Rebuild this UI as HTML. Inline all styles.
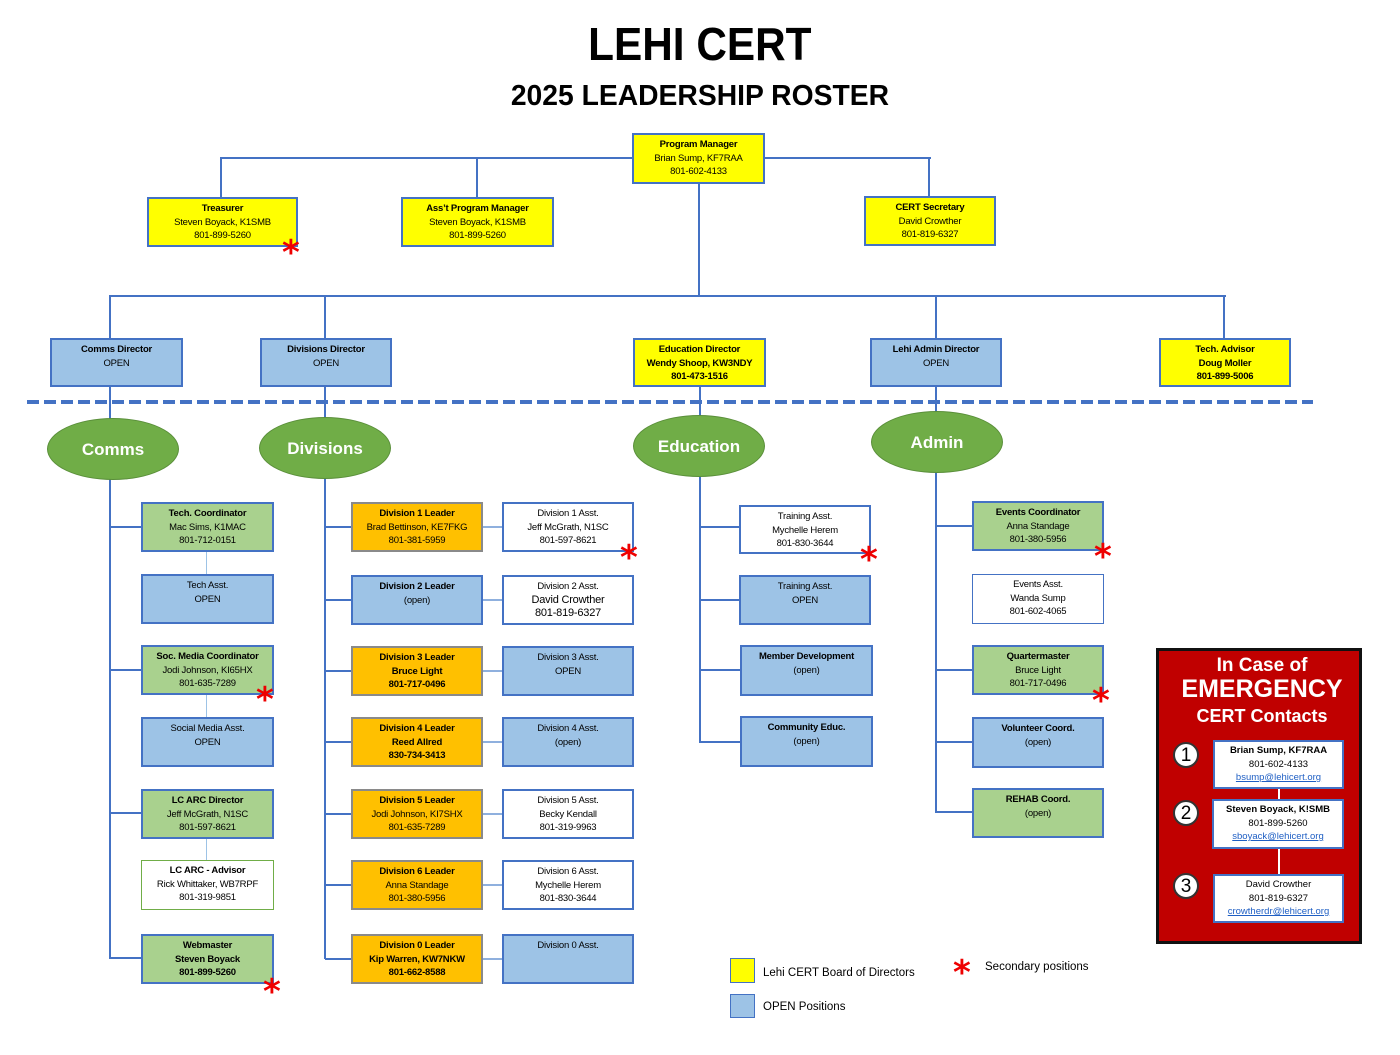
<!DOCTYPE html>
<html><head><meta charset="utf-8"><style>
body{margin:0;width:1400px;height:1055px;background:#fff;position:relative;overflow:hidden;font-family:"Liberation Sans",sans-serif}
div{position:absolute;box-sizing:border-box}
.b{border:2px solid #4472c4;text-align:center;font-size:9.5px;line-height:13.5px;padding-top:3px;color:#000;letter-spacing:-0.2px}
.y{background:#ffff00}.u{background:#9dc3e6}.g{background:#a9d18e}.o{background:#ffc000;border-color:#8a8a8a}.w{background:#fff}
.h{height:2px;background:#4472c4}.v{width:2px;background:#4472c4}
.e{background:#70ad47;border-radius:50%;color:#fff;font-weight:bold;font-size:17px;text-align:center;border:1px solid #5a8f3a}
.s{color:#e00;font-size:34px;font-weight:bold;line-height:30px;font-family:"DejaVu Sans",sans-serif}
.lt{font-size:11.5px;color:#000}
.c{background:#fff;border:2px solid #4472c4;text-align:center;font-size:9.5px;line-height:13.5px;padding-top:2px}
.c a{color:#1f5fc4;text-decoration:underline}
.n{width:26px;height:26px;border-radius:50%;background:#fff;border:2px solid #333;font-size:19px;text-align:center;line-height:23px}
</style></head><body>
<div style="left:0;width:1400px;top:17px;text-align:center;font-size:46px;font-weight:bold;transform:scaleX(0.92);transform-origin:698px 0">LEHI CERT</div>
<div style="left:0;width:1400px;top:80px;text-align:center;font-size:29px;font-weight:bold;transform:scaleX(0.975);transform-origin:697px 0">2025 LEADERSHIP ROSTER</div>

<!-- top connectors -->
<div class="h" style="left:221px;top:157px;width:710px"></div>
<div class="v" style="left:220px;top:157px;height:41px"></div>
<div class="v" style="left:476px;top:157px;height:41px"></div>
<div class="v" style="left:928px;top:157px;height:40px"></div>
<div class="v" style="left:698px;top:183px;height:114px"></div>
<div class="h" style="left:109px;top:295px;width:1117px"></div>
<div class="v" style="left:109px;top:295px;height:44px"></div>
<div class="v" style="left:324px;top:295px;height:44px"></div>
<div class="v" style="left:935px;top:295px;height:44px"></div>
<div class="v" style="left:1223px;top:295px;height:44px"></div>

<div class="b y" style="left:632px;top:133px;width:133px;height:51px"><b>Program Manager</b><br>Brian Sump, KF7RAA<br>801-602-4133</div>
<div class="b y" style="left:147px;top:197px;width:151px;height:50px"><b>Treasurer</b><br>Steven Boyack, K1SMB<br>801-899-5260</div>
<div class="b y" style="left:401px;top:197px;width:153px;height:50px"><b>Ass’t Program Manager</b><br>Steven Boyack, K1SMB<br>801-899-5260</div>
<div class="b y" style="left:864px;top:196px;width:132px;height:50px"><b>CERT Secretary</b><br>David Crowther<br>801-819-6327</div>
<div class="s" style="left:282px;top:238px">*</div>

<div class="b u" style="left:50px;top:338px;width:133px;height:49px"><b>Comms Director</b><br>OPEN</div>
<div class="b u" style="left:260px;top:338px;width:132px;height:49px"><b>Divisions Director</b><br>OPEN</div>
<div class="b y" style="left:633px;top:338px;width:133px;height:49px"><b>Education Director<br>Wendy Shoop, KW3NDY<br>801-473-1516</b></div>
<div class="b u" style="left:870px;top:338px;width:132px;height:49px"><b>Lehi Admin Director</b><br>OPEN</div>
<div class="b y" style="left:1159px;top:338px;width:132px;height:49px"><b>Tech. Advisor<br>Doug Moller<br>801-899-5006</b></div>

<div style="left:27px;top:400px;width:1286px;height:4px;background:repeating-linear-gradient(90deg,#4472c4 0 12px,transparent 12px 17px)"></div>

<!-- column verticals -->
<div class="v" style="left:109px;top:386px;height:573px"></div>
<div class="v" style="left:324px;top:386px;height:573px"></div>
<div class="v" style="left:699px;top:386px;height:357px"></div>
<div class="v" style="left:935px;top:386px;height:427px"></div>

<div class="e" style="left:47px;top:418px;width:132px;height:62px;line-height:62px">Comms</div>
<div class="e" style="left:259px;top:417px;width:132px;height:62px;line-height:62px">Divisions</div>
<div class="e" style="left:633px;top:415px;width:132px;height:62px;line-height:62px">Education</div>
<div class="e" style="left:871px;top:411px;width:132px;height:62px;line-height:62px">Admin</div>

<!-- Comms -->
<div class="h" style="left:110px;top:526px;width:32px"></div>
<div class="h" style="left:110px;top:669px;width:32px"></div>
<div class="h" style="left:110px;top:812px;width:32px"></div>
<div class="h" style="left:110px;top:957px;width:32px"></div>
<div class="v" style="left:206px;top:550px;height:25px;width:1px;background:#9dc3e6"></div>
<div class="v" style="left:206px;top:693px;height:25px;width:1px;background:#9dc3e6"></div>
<div class="v" style="left:206px;top:837px;height:24px;width:1px;background:#9dc3e6"></div>
<div class="b g" style="left:141px;top:502px;width:133px;height:50px"><b>Tech. Coordinator</b><br>Mac Sims, K1MAC<br>801-712-0151</div>
<div class="b u" style="left:141px;top:574px;width:133px;height:50px">Tech Asst.<br>OPEN</div>
<div class="b g" style="left:141px;top:645px;width:133px;height:50px"><b>Soc. Media Coordinator</b><br>Jodi Johnson, KI65HX<br>801-635-7289</div>
<div class="b u" style="left:141px;top:717px;width:133px;height:50px">Social Media Asst.<br>OPEN</div>
<div class="b g" style="left:141px;top:789px;width:133px;height:50px"><b>LC ARC Director</b><br>Jeff McGrath, N1SC<br>801-597-8621</div>
<div class="b w" style="left:141px;top:860px;width:133px;height:50px;border:1px solid #70ad47"><b>LC ARC - Advisor</b><br>Rick Whittaker, WB7RPF<br>801-319-9851</div>
<div class="b g" style="left:141px;top:934px;width:133px;height:50px"><b>Webmaster<br>Steven Boyack<br>801-899-5260</b></div>
<div class="s" style="left:256px;top:685px">*</div>
<div class="s" style="left:263px;top:977px">*</div>

<!-- Divisions -->
<div class="h" style="left:325px;top:526px;width:27px"></div>
<div class="h" style="left:325px;top:599px;width:27px"></div>
<div class="h" style="left:325px;top:670px;width:27px"></div>
<div class="h" style="left:325px;top:741px;width:27px"></div>
<div class="h" style="left:325px;top:813px;width:27px"></div>
<div class="h" style="left:325px;top:884px;width:27px"></div>
<div class="h" style="left:325px;top:958px;width:27px"></div>
<div class="h" style="left:482px;top:526px;width:21px;background:#8fb0de"></div>
<div class="h" style="left:482px;top:599px;width:21px;background:#8fb0de"></div>
<div class="h" style="left:482px;top:670px;width:21px;background:#8fb0de"></div>
<div class="h" style="left:482px;top:741px;width:21px;background:#8fb0de"></div>
<div class="h" style="left:482px;top:813px;width:21px;background:#8fb0de"></div>
<div class="h" style="left:482px;top:884px;width:21px;background:#8fb0de"></div>
<div class="h" style="left:482px;top:958px;width:21px;background:#8fb0de"></div>

<div class="b o" style="left:351px;top:502px;width:132px;height:50px"><b>Division 1 Leader</b><br>Brad Bettinson, KE7FKG<br>801-381-5959</div>
<div class="b w" style="left:502px;top:502px;width:132px;height:50px">Division 1 Asst.<br>Jeff McGrath, N1SC<br>801-597-8621</div>
<div class="b u" style="left:351px;top:575px;width:132px;height:50px"><b>Division 2 Leader</b><br>(open)</div>
<div class="b w" style="left:502px;top:575px;width:132px;height:50px">Division 2 Asst.<br><span style="font-size:11px">David Crowther<br>801-819-6327</span></div>
<div class="b o" style="left:351px;top:646px;width:132px;height:50px"><b>Division 3 Leader<br>Bruce Light<br>801-717-0496</b></div>
<div class="b u" style="left:502px;top:646px;width:132px;height:50px">Division 3 Asst.<br>OPEN</div>
<div class="b o" style="left:351px;top:717px;width:132px;height:50px"><b>Division 4 Leader<br>Reed Allred<br>830-734-3413</b></div>
<div class="b u" style="left:502px;top:717px;width:132px;height:50px">Division 4 Asst.<br>(open)</div>
<div class="b o" style="left:351px;top:789px;width:132px;height:50px"><b>Division 5 Leader</b><br>Jodi Johnson, KI7SHX<br>801-635-7289</div>
<div class="b w" style="left:502px;top:789px;width:132px;height:50px">Division 5 Asst.<br>Becky Kendall<br>801-319-9963</div>
<div class="b o" style="left:351px;top:860px;width:132px;height:50px"><b>Division 6 Leader</b><br>Anna Standage<br>801-380-5956</div>
<div class="b w" style="left:502px;top:860px;width:132px;height:50px">Division 6 Asst.<br>Mychelle Herem<br>801-830-3644</div>
<div class="b o" style="left:351px;top:934px;width:132px;height:50px"><b>Division 0 Leader<br>Kip Warren, KW7NKW<br>801-662-8588</b></div>
<div class="b u" style="left:502px;top:934px;width:132px;height:50px">Division 0 Asst.</div>
<div class="s" style="left:620px;top:543px">*</div>

<!-- Education -->
<div class="h" style="left:700px;top:526px;width:40px"></div>
<div class="h" style="left:700px;top:599px;width:40px"></div>
<div class="h" style="left:700px;top:669px;width:40px"></div>
<div class="h" style="left:700px;top:741px;width:40px"></div>
<div class="b w" style="left:739px;top:505px;width:132px;height:49px">Training Asst.<br>Mychelle Herem<br>801-830-3644</div>
<div class="b u" style="left:739px;top:575px;width:132px;height:50px">Training Asst.<br>OPEN</div>
<div class="b u" style="left:740px;top:645px;width:133px;height:51px"><b>Member Development</b><br>(open)</div>
<div class="b u" style="left:740px;top:716px;width:133px;height:51px"><b>Community Educ.</b><br>(open)</div>
<div class="s" style="left:860px;top:545px">*</div>

<!-- Admin -->
<div class="h" style="left:936px;top:525px;width:37px"></div>
<div class="h" style="left:936px;top:669px;width:37px"></div>
<div class="h" style="left:936px;top:741px;width:37px"></div>
<div class="h" style="left:936px;top:811px;width:37px"></div>
<div class="b g" style="left:972px;top:501px;width:132px;height:50px"><b>Events Coordinator</b><br>Anna Standage<br>801-380-5956</div>
<div class="b w" style="left:972px;top:574px;width:132px;height:50px;border-width:1px">Events Asst.<br>Wanda Sump<br>801-602-4065</div>
<div class="b g" style="left:972px;top:645px;width:132px;height:50px"><b>Quartermaster</b><br>Bruce Light<br>801-717-0496</div>
<div class="b u" style="left:972px;top:717px;width:132px;height:51px"><b>Volunteer Coord.</b><br>(open)</div>
<div class="b g" style="left:972px;top:788px;width:132px;height:50px"><b>REHAB Coord.</b><br>(open)</div>
<div class="s" style="left:1094px;top:542px">*</div>
<div class="s" style="left:1092px;top:686px">*</div>

<!-- Emergency -->
<div style="left:1156px;top:648px;width:206px;height:296px;background:#c00000;border:3px solid #111"></div>
<div style="left:1156px;top:655px;width:212px;text-align:center;color:#fff;font-size:19px;line-height:22px;font-weight:bold">In Case of</div>
<div style="left:1156px;top:675px;width:212px;text-align:center;color:#fff;font-size:25px;font-weight:bold;line-height:28px">EMERGENCY</div>
<div style="left:1156px;top:705px;width:212px;text-align:center;color:#fff;font-size:18px;font-weight:bold;line-height:22px">CERT Contacts</div>
<div style="left:1278px;top:786px;width:2px;height:90px;background:#fff"></div>
<div class="c" style="left:1213px;top:740px;width:131px;height:49px"><b>Brian Sump, KF7RAA</b><br>801-602-4133<br><a>bsump@lehicert.org</a></div>
<div class="c" style="left:1212px;top:799px;width:132px;height:50px"><b>Steven Boyack, K!SMB</b><br>801-899-5260<br><a>sboyack@lehicert.org</a></div>
<div class="c" style="left:1213px;top:874px;width:131px;height:49px">David Crowther<br>801-819-6327<br><a>crowtherdr@lehicert.org</a></div>
<div class="n" style="left:1173px;top:742px">1</div>
<div class="n" style="left:1173px;top:800px">2</div>
<div class="n" style="left:1173px;top:873px">3</div>

<!-- legend -->
<div style="left:730px;top:958px;width:25px;height:25px;background:#ffff00;border:1px solid #4472c4"></div>
<div class="lt" style="left:763px;top:967px">Lehi CERT Board of Directors</div>
<div style="left:730px;top:994px;width:25px;height:24px;background:#9dc3e6;border:1px solid #4472c4"></div>
<div class="lt" style="left:763px;top:1001px">OPEN Positions</div>
<div class="s" style="left:953px;top:958px">*</div>
<div class="lt" style="left:985px;top:961px">Secondary positions</div>
</body></html>
